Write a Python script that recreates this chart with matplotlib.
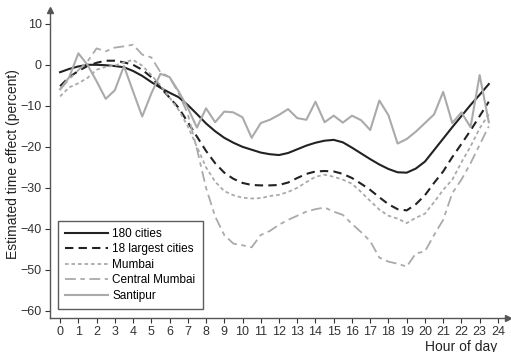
import matplotlib.pyplot as plt
import numpy as np

plt.rcParams['font.family'] = ['Liberation Sans', 'DejaVu Sans']

# --- data (half-hour steps)
hours = np.arange(0, 24, 0.5)

cities_180 = [-1.8, -1.0, -0.4, 0.0, 0.0, -0.1, -0.3, -0.6, -1.5, -2.7,
              -4.2, -5.6, -6.8, -7.9, -9.8, -12.0, -14.3, -16.2, -17.8, -19.0,
              -20.0, -20.7, -21.4, -21.8, -22.0, -21.5, -20.6, -19.7, -19.0, -18.5,
              -18.3, -18.9, -20.2, -21.6, -23.0, -24.3, -25.4, -26.2, -26.3, -25.3,
              -23.6, -20.8, -18.0, -15.2, -12.5, -9.8, -7.3, -4.7]

largest_18 = [-5.2, -3.0, -1.5, -0.3, 0.5, 1.0, 1.0, 0.6, 0.0, -1.2,
              -3.0, -5.5, -8.0, -10.5, -14.0, -17.5, -21.0, -24.0, -26.3, -27.8,
              -28.8, -29.3, -29.4, -29.4, -29.3, -28.7, -27.6, -26.6, -26.0, -25.9,
              -26.0, -26.6, -27.6, -29.0, -30.5, -32.3, -34.0, -35.2, -35.5, -34.0,
              -31.8, -28.8, -26.0, -22.5, -19.3, -16.0, -12.5, -9.0]

mumbai = [-7.7, -5.5, -4.5, -3.2, -1.2, -0.5, -0.2, 0.6, 1.2, -0.2,
          -2.5, -5.0, -8.0, -11.0, -15.0, -20.0, -25.0, -28.5, -30.8, -31.8,
          -32.4, -32.6, -32.5, -32.0, -31.7, -31.0, -30.0, -28.6, -27.3, -26.8,
          -27.3, -28.0, -29.0, -31.0, -33.2, -35.3, -36.8, -37.5, -38.6, -37.3,
          -36.3, -33.5, -30.5, -28.0, -23.8, -19.9, -15.5, -12.0]

central_mumbai = [-6.0, -3.5, -1.3, 0.8, 4.0, 3.3, 4.2, 4.5, 4.9, 2.5,
                  1.8, -1.8, -3.0, -7.0, -12.0, -20.5, -30.0, -37.0, -41.5, -43.6,
                  -44.0, -44.5, -41.5, -40.5, -39.0, -37.8, -36.8, -35.8, -35.2, -34.8,
                  -35.8, -36.6, -38.8, -40.8, -43.0, -47.0, -48.0, -48.5, -49.2, -46.0,
                  -45.5, -41.5, -37.8, -31.3, -28.0, -24.0, -19.5, -15.0]

santipur = [-6.0, -3.0, 2.8, 0.0, -4.0, -8.3, -6.2, -0.3, -6.5, -12.6,
            -7.0, -2.2, -3.0, -6.5, -10.5, -15.3, -10.6, -14.0, -11.4, -11.6,
            -12.8, -17.8, -14.2, -13.4, -12.2, -10.8, -13.0, -13.4, -9.0, -14.0,
            -12.4, -14.1, -12.4, -13.5, -15.9, -8.7, -12.3, -19.2, -18.1, -16.3,
            -14.2, -12.1, -6.6, -14.2, -11.6, -15.2, -2.5, -14.0]

x_ticks = list(range(0, 25))
y_ticks = [10, 0, -10, -20, -30, -40, -50, -60]

# --- figure
fig = plt.figure(figsize=(5.11, 3.52), dpi=100)
ax = fig.add_axes([0.098, 0.097, 0.896, 0.875])

dark = '#222222'
light = '#aaaaaa'
ax.plot(hours, cities_180, color=dark, lw=1.5, label='180 cities')
ax.plot(hours, largest_18, color=dark, lw=1.5, dashes=(4, 2.5), label='18 largest cities')
ax.plot(hours, mumbai, color=light, lw=1.3, dashes=(2, 1.6), label='Mumbai')
ax.plot(hours, central_mumbai, color=light, lw=1.3, dashes=(6, 2.5, 2.5, 2.5), label='Central Mumbai')
ax.plot(hours, santipur, color=light, lw=1.5, label='Santipur')

ax.set_xlim(-0.55, 24.55)
ax.set_ylim(-61.7, 13.4)
ax.set_xticks(x_ticks)
ax.set_yticks(y_ticks)
ax.tick_params(labelsize=9, colors='#333333', length=3.5, width=0.8, pad=2.5)

for s in ['top', 'right']:
    ax.spines[s].set_visible(False)
for s in ['left', 'bottom']:
    ax.spines[s].set_color('#555555')
    ax.spines[s].set_linewidth(1.0)

# arrow heads on the axes
ax.plot(1, 0, '>', color='#555555', ms=4, transform=ax.transAxes, clip_on=False)
ax.plot(0, 1, '^', color='#555555', ms=4, transform=ax.transAxes, clip_on=False)

ax.set_ylabel('Estimated time effect (percent)', fontsize=10, color='#222222', va='center')
ax.yaxis.set_label_coords(-0.082, 0.5)
ax.set_xlabel('Hour of day', fontsize=10, color='#222222', ha='right', va='center')
ax.xaxis.set_label_coords(0.976, -0.093)

leg = ax.legend(loc='lower left', bbox_to_anchor=(0.0175, 0.029), borderaxespad=0,
                fontsize=8.5, frameon=True, fancybox=False, handlelength=3.6,
                handletextpad=0.4, labelspacing=0.3, borderpad=0.6)
leg.get_frame().set_edgecolor('#333333')
leg.get_frame().set_linewidth(1.0)

plt.savefig('out.png', dpi=100)
